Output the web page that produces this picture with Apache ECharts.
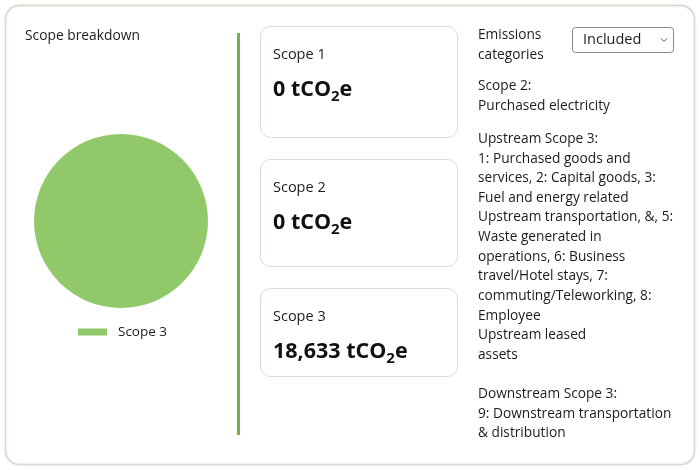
<!DOCTYPE html>
<html>
<head>
<meta charset="utf-8">
<script src="https://cdn.jsdelivr.net/npm/echarts@6/dist/echarts.min.js"></script>
<style>
  html, body { margin: 0; padding: 0; background: #ffffff; }
  #main { width: 700px; height: 470px; }
</style>
</head>
<body>
<div id="main"></div>
<script>
    // scope totals (tCO2e)
    var scopeNames = ['Scope 1', 'Scope 2', 'Scope 3'];
    var scopeValues = [0, 0, 18633];
    var pieColor = '#91c96a';

    var filterOptions = ['Included'];
    var categoryLines = [
        ['Emissions', 'categories'],
        ['Scope 2:', 'Purchased electricity'],
        ['Upstream Scope 3:', '1: Purchased goods and', 'services, 2: Capital goods, 3:',
            'Fuel and energy related', 'Upstream transportation, &, 5:', 'Waste generated in',
            'operations, 6: Business', 'travel/Hotel stays, 7:', 'commuting/Teleworking, 8:',
            'Employee', 'Upstream leased', 'assets'],
        ['Downstream Scope 3:', '9: Downstream transportation', '& distribution']
    ];

    var FONT = '"Open Sans", sans-serif';
    var TXT = '#1c1c1c';

    function fmt(v) {
        return v.toString().replace(/\B(?=(\d{3})+(?!\d))/g, ',');
    }

    var pieData = [];
    for (var i = 0; i < scopeNames.length; ++i) {
        if (scopeValues[i] > 0) {
            pieData.push({name: scopeNames[i], value: scopeValues[i]});
        }
    }

    var graphics = [];
    // outer card
    graphics.push({
        type: 'rect', shape: {x: 5.5, y: 5.5, width: 689, height: 459, r: 14},
        style: {fill: '#fff', stroke: '#d9d9d0', lineWidth: 1.5,
            shadowBlur: 3, shadowColor: 'rgba(0,0,0,0.08)'}, z: -10
    });
    graphics.push({
        type: 'text', x: 25, y: 36,
        style: {text: 'Scope breakdown', font: '13.8px ' + FONT, fill: TXT, verticalAlign: 'middle'}
    });
    // divider
    graphics.push({
        type: 'rect', shape: {x: 237, y: 33, width: 3, height: 402},
        style: {fill: '#6db54a'}
    });

    // scope cards
    var cardTops = [26, 159, 288];
    var cardHeights = [111, 107, 88];
    for (var k = 0; k < scopeNames.length; ++k) {
        var cardY = cardTops[k];
        graphics.push({
            type: 'rect', shape: {x: 260.5, y: cardY + 0.5, width: 197, height: cardHeights[k], r: 10},
            style: {fill: '#fff', stroke: '#dcdcd0', lineWidth: 1}
        });
        graphics.push({
            type: 'text', x: 273, y: cardY + 29,
            style: {text: scopeNames[k], font: '14.5px ' + FONT, fill: TXT, verticalAlign: 'middle'}
        });
        graphics.push({
            type: 'text', x: 273, y: cardY + 64,
            style: {
                text: '{b|' + fmt(scopeValues[k]) + ' tCO}{s|2}{b|e}',
                verticalAlign: 'middle',
                rich: {
                    b: {font: 'bold 21.5px ' + FONT, fill: '#111', lineHeight: 28, verticalAlign: 'middle'},
                    s: {font: 'bold 15px ' + FONT, fill: '#111', lineHeight: 28, verticalAlign: 'bottom', padding: [8, 0, 0, 0]}
                }
            }
        });
    }

    // filter select
    graphics.push({
        type: 'rect', shape: {x: 572.5, y: 27.5, width: 101, height: 25, r: 3},
        style: {fill: '#fff', stroke: '#8a8a8a', lineWidth: 1}
    });
    graphics.push({
        type: 'text', x: 583, y: 40,
        style: {text: filterOptions[0], font: '14.5px ' + FONT, fill: TXT, verticalAlign: 'middle'}
    });
    graphics.push({
        type: 'polyline', shape: {points: [[661, 38.5], [664, 41.5], [667, 38.5]]},
        style: {stroke: '#555', lineWidth: 1, fill: null}
    });

    // categories text
    var blockTops = [35, 86, 139, 394];
    for (var b = 0; b < categoryLines.length; ++b) {
        for (var j = 0; j < categoryLines[b].length; ++j) {
            graphics.push({
                type: 'text', x: 478, y: blockTops[b] + j * 19.65,
                style: {text: categoryLines[b][j], font: '13.7px ' + FONT, fill: TXT, verticalAlign: 'middle'}
            });
        }
    }

    var option = {
        animation: false,
        textStyle: {fontFamily: FONT},
        color: [pieColor],
        legend: {
            data: pieData.map(function (d) { return d.name; }),
            left: 73, top: 320,
            icon: 'rect', itemWidth: 29, itemHeight: 7, itemGap: 10,
            textStyle: {fontSize: 13.5, color: TXT, padding: [0, 0, 0, 6]}
        },
        series: [
            {
                name: 'Scope breakdown',
                type: 'pie',
                center: [121, 221],
                radius: 87,
                label: {show: false},
                labelLine: {show: false},
                itemStyle: {borderWidth: 0},
                data: pieData
            }
        ],
        graphic: graphics
    };
    var myChart = echarts.init(document.getElementById('main'), null, {renderer: 'canvas'});
    myChart.setOption(option);
</script>
</body>
</html>
